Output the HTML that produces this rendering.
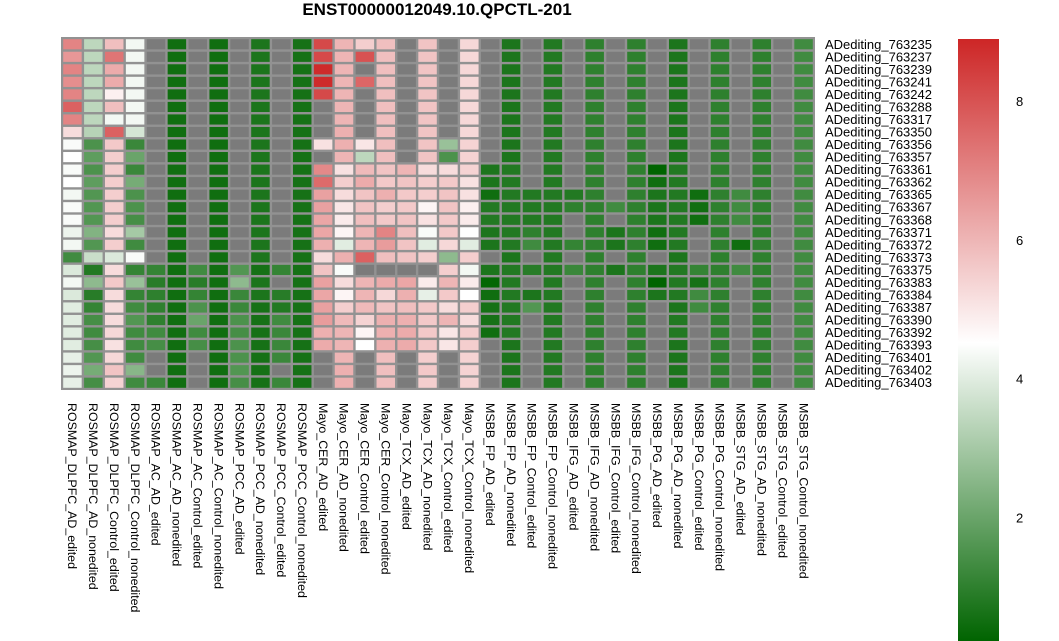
<!DOCTYPE html>
<html><head><meta charset="utf-8"><style>
body{margin:0;background:#fff;}
svg{display:block;font-family:"Liberation Sans",sans-serif;}
</style></head><body>
<svg id="chart" width="1059" height="641" viewBox="0 0 1059 641" xmlns="http://www.w3.org/2000/svg">
<defs><linearGradient id="lg" x1="0" y1="1" x2="0" y2="0">
<stop offset="0" stop-color="#006400"/><stop offset="0.495" stop-color="#ffffff"/><stop offset="1" stop-color="#cd2626"/>
</linearGradient></defs>
<text x="437" y="15" text-anchor="middle" font-size="17" font-weight="bold">ENST00000012049.10.QPCTL-201</text>
<rect x="61" y="37" width="754" height="353" fill="#929292"/>
<g id="cells"></g><g id="rowlabels"></g><g id="collabels"></g>
<rect x="958" y="39" width="41" height="602" fill="url(#lg)"/>
<g id="legend"></g>
</svg>
<script>
const columns=["ROSMAP_DLPFC_AD_edited","ROSMAP_DLPFC_AD_nonedited","ROSMAP_DLPFC_Control_edited","ROSMAP_DLPFC_Control_nonedited","ROSMAP_AC_AD_edited","ROSMAP_AC_AD_nonedited","ROSMAP_AC_Control_edited","ROSMAP_AC_Control_nonedited","ROSMAP_PCC_AD_edited","ROSMAP_PCC_AD_nonedited","ROSMAP_PCC_Control_edited","ROSMAP_PCC_Control_nonedited","Mayo_CER_AD_edited","Mayo_CER_AD_nonedited","Mayo_CER_Control_edited","Mayo_CER_Control_nonedited","Mayo_TCX_AD_edited","Mayo_TCX_AD_nonedited","Mayo_TCX_Control_edited","Mayo_TCX_Control_nonedited","MSBB_FP_AD_edited","MSBB_FP_AD_nonedited","MSBB_FP_Control_edited","MSBB_FP_Control_nonedited","MSBB_IFG_AD_edited","MSBB_IFG_AD_nonedited","MSBB_IFG_Control_edited","MSBB_IFG_Control_nonedited","MSBB_PG_AD_edited","MSBB_PG_AD_nonedited","MSBB_PG_Control_edited","MSBB_PG_Control_nonedited","MSBB_STG_AD_edited","MSBB_STG_AD_nonedited","MSBB_STG_Control_edited","MSBB_STG_Control_nonedited"];
const rows=["ADediting_763235","ADediting_763237","ADediting_763239","ADediting_763241","ADediting_763242","ADediting_763288","ADediting_763317","ADediting_763350","ADediting_763356","ADediting_763357","ADediting_763361","ADediting_763362","ADediting_763365","ADediting_763367","ADediting_763368","ADediting_763371","ADediting_763372","ADediting_763373","ADediting_763375","ADediting_763383","ADediting_763384","ADediting_763387","ADediting_763390","ADediting_763392","ADediting_763393","ADediting_763401","ADediting_763402","ADediting_763403"];
const N=null;
const leftPat=[N,0.5,N,0.5,N,0.7,N,0.6];
const rightPat=[N,0.7,N,0.8,N,1.0,N,1.0,N,0.7,N,1.0,N,1.0,N,1.3];
const values=[
[7.0,3.4,5.8,4.3,...leftPat,8.2,6.0,5.5,5.8,N,5.7,N,5.3,...rightPat],
[6.6,3.4,7.3,4.3,...leftPat,8.2,6.0,8.0,5.8,N,5.7,N,5.3,...rightPat],
[7.0,3.4,6.2,4.3,...leftPat,8.8,6.0,N,5.8,N,5.7,N,5.3,...rightPat],
[6.8,3.4,6.2,4.3,...leftPat,8.8,6.0,7.6,5.8,N,5.7,N,5.3,...rightPat],
[7.0,3.4,4.8,4.3,...leftPat,8.2,6.0,N,5.8,N,5.7,N,5.3,...rightPat],
[7.7,3.4,5.8,4.3,...leftPat,N,6.0,N,5.8,N,5.7,N,5.3,...rightPat],
[7.0,3.4,4.3,4.3,...leftPat,N,6.0,N,5.8,N,5.7,N,5.3,...rightPat],
[5.2,3.3,7.7,3.8,...leftPat,N,6.1,N,5.8,N,5.7,N,5.3,...rightPat],
[4.4,1.5,5.6,1.2,...leftPat,5.1,6.1,5.0,5.8,N,5.7,2.8,5.4,...rightPat],
[4.5,1.8,5.5,2.0,...leftPat,N,6.0,3.4,5.8,N,5.7,1.5,5.4,...rightPat],
[4.4,1.5,5.5,1.2,...leftPat,6.9,5.1,5.9,5.7,6.0,5.2,5.2,5.4,0.7,0.8,N,0.8,N,1.0,N,1.0,0.2,0.8,N,1.0,N,1.0,N,1.3],
[4.5,1.8,5.5,2.2,...leftPat,7.5,5.5,6.2,5.6,5.7,5.5,5.6,5.1,0.7,0.8,N,0.8,N,1.0,N,1.0,0.5,0.8,N,1.0,N,1.0,N,1.3],
[4.3,1.6,5.5,1.5,...leftPat,6.4,5.2,5.7,6.1,5.6,5.5,5.7,5.1,0.5,0.8,0.8,0.8,0.8,1.0,N,1.0,0.7,0.8,0.5,1.0,1.3,1.0,N,1.3],
[4.4,1.6,5.5,1.5,...leftPat,6.4,5.0,5.7,5.5,5.6,4.7,5.7,4.8,0.8,0.8,0.8,0.8,1.0,1.0,1.3,1.0,0.7,0.8,0.5,1.0,1.3,1.0,N,1.3],
[4.4,1.6,5.5,1.4,...leftPat,6.3,4.9,5.8,5.6,5.7,5.1,5.6,4.9,0.8,0.8,0.8,0.8,N,1.0,N,1.0,0.7,0.8,0.5,1.0,1.3,1.0,N,1.3],
[4.2,2.4,5.2,3.0,...leftPat,6.3,4.7,6.0,7.0,5.8,4.4,5.6,4.5,0.7,0.8,1.0,0.8,N,1.0,0.7,1.0,0.5,0.8,N,1.0,N,1.0,N,1.3],
[4.3,1.6,5.5,1.3,...leftPat,6.1,4.0,6.0,6.5,5.7,4.0,5.3,4.0,0.7,0.8,1.3,0.8,1.1,1.0,0.7,1.0,0.5,0.8,N,1.0,0.5,1.0,N,1.3],
[1.3,3.6,3.9,4.4,...leftPat,5.2,6.1,7.7,5.8,5.7,5.5,2.6,5.5,...rightPat],
[3.9,0.8,5.2,1.1,1.1,0.5,1.3,0.5,1.6,0.6,1.1,0.6,5.7,4.4,N,N,N,N,5.5,4.3,0.7,0.8,0.9,0.8,1.2,1.0,0.7,1.0,0.7,0.8,1.1,1.0,1.3,1.0,N,1.3],
[4.3,2.6,5.6,2.8,0.9,0.5,0.9,0.5,2.6,0.7,N,0.6,6.4,5.2,6.0,6.2,6.3,4.9,6.0,4.9,0.3,0.8,N,0.8,N,1.0,N,1.0,0.2,0.8,0.6,1.0,N,1.0,N,1.3],
[3.9,0.9,5.2,1.1,1.0,0.5,1.1,0.5,1.2,0.7,0.9,0.6,6.3,4.7,6.0,5.3,6.1,4.1,5.6,4.5,0.5,0.8,0.7,0.8,N,1.0,N,1.0,0.7,0.8,1.3,1.0,N,1.0,N,1.3],
[4.0,1.1,5.2,1.3,1.0,0.5,1.5,0.5,1.2,0.6,0.8,0.6,6.4,5.5,5.9,5.7,5.8,5.6,5.2,5.5,0.6,0.8,1.6,0.8,N,1.0,N,1.0,N,0.7,1.3,1.0,N,1.0,N,1.3],
[4.0,1.4,5.2,1.6,1.0,0.5,2.0,0.5,1.5,0.6,1.3,0.6,6.5,5.9,5.4,6.1,6.1,5.6,6.0,5.2,0.6,0.8,N,0.8,N,1.0,N,1.0,N,0.8,N,1.0,N,1.0,N,1.3],
[4.0,1.3,5.3,1.3,1.3,0.5,1.3,0.5,1.4,0.6,1.2,0.6,6.1,6.0,4.7,6.1,6.2,5.6,5.0,5.5,0.5,0.8,N,0.8,N,1.0,N,1.0,N,0.8,N,1.0,N,1.0,N,1.3],
[4.0,1.4,5.1,1.3,1.4,0.5,1.4,0.5,1.5,0.6,1.2,0.6,6.2,6.0,4.5,6.1,6.2,5.6,5.0,5.5,...rightPat],
[4.1,1.6,5.3,1.3,N,0.5,N,0.5,1.5,0.6,1.2,0.6,N,6.0,N,5.8,N,5.5,N,5.4,...rightPat],
[4.2,2.2,5.7,2.5,N,0.5,N,0.5,1.6,0.6,N,0.6,N,6.1,N,5.8,N,5.6,N,5.4,...rightPat],
[4.1,1.4,5.4,1.3,1.2,0.5,N,0.5,1.4,0.6,1.2,0.6,N,6.1,N,5.8,N,5.5,N,5.4,...rightPat]
];
const legendTicks=[2,4,6,8];
const vMin=0.23,vMid=4.5,vMax=8.9;
const x0=62,y0=38,cw=752/columns.length,ch=351/rows.length;
const xPos=i=>x0+i*cw, yPos=j=>y0+j*ch;
const legY=v=>641-(v-vMin)/(vMax-vMin)*602;
function color(v){
  if(v===null)return "#7b7b7b";
  let a,b,t;
  if(v<=vMid){a=[0,100,0];b=[255,255,255];t=Math.max(0,(v-vMin)/(vMid-vMin));}
  else{a=[255,255,255];b=[205,38,38];t=Math.min(1,(v-vMid)/(vMax-vMid));}
  return "rgb("+a.map((c,k)=>Math.round(c+(b[k]-c)*t)).join(",")+")";
}
const NS="http://www.w3.org/2000/svg";
const cg=document.getElementById("cells");
values.forEach((row,j)=>row.forEach((v,i)=>{
  const r=document.createElementNS(NS,"rect");
  r.setAttribute("x",xPos(i)+1.2);r.setAttribute("y",yPos(j)+1.2);
  r.setAttribute("width",cw-2.4);r.setAttribute("height",ch-2.4);
  r.setAttribute("fill",color(v));
  
  
  cg.appendChild(r);
}));
const rg=document.getElementById("rowlabels");
rows.forEach((n,j)=>{
  const t=document.createElementNS(NS,"text");
  t.setAttribute("x",825);t.setAttribute("y",yPos(j)+ch/2+4.5);t.setAttribute("font-size","13");
  t.textContent=n;
  
  
  rg.appendChild(t);
});
const colg=document.getElementById("collabels");
columns.forEach((n,i)=>{
  const t=document.createElementNS(NS,"text");
  const cx=xPos(i)+cw/2-4.3;
  t.setAttribute("transform","translate("+cx+",403) rotate(90)");t.setAttribute("font-size","12.4");
  t.textContent=n;
  
  
  colg.appendChild(t);
});
const lg=document.getElementById("legend");
legendTicks.forEach(v=>{
  const t=document.createElementNS(NS,"text");
  t.setAttribute("x",1016);t.setAttribute("y",legY(v)+4.5);t.setAttribute("font-size","13");
  t.textContent=v;
  
  
  lg.appendChild(t);
});
</script>
</body></html>
